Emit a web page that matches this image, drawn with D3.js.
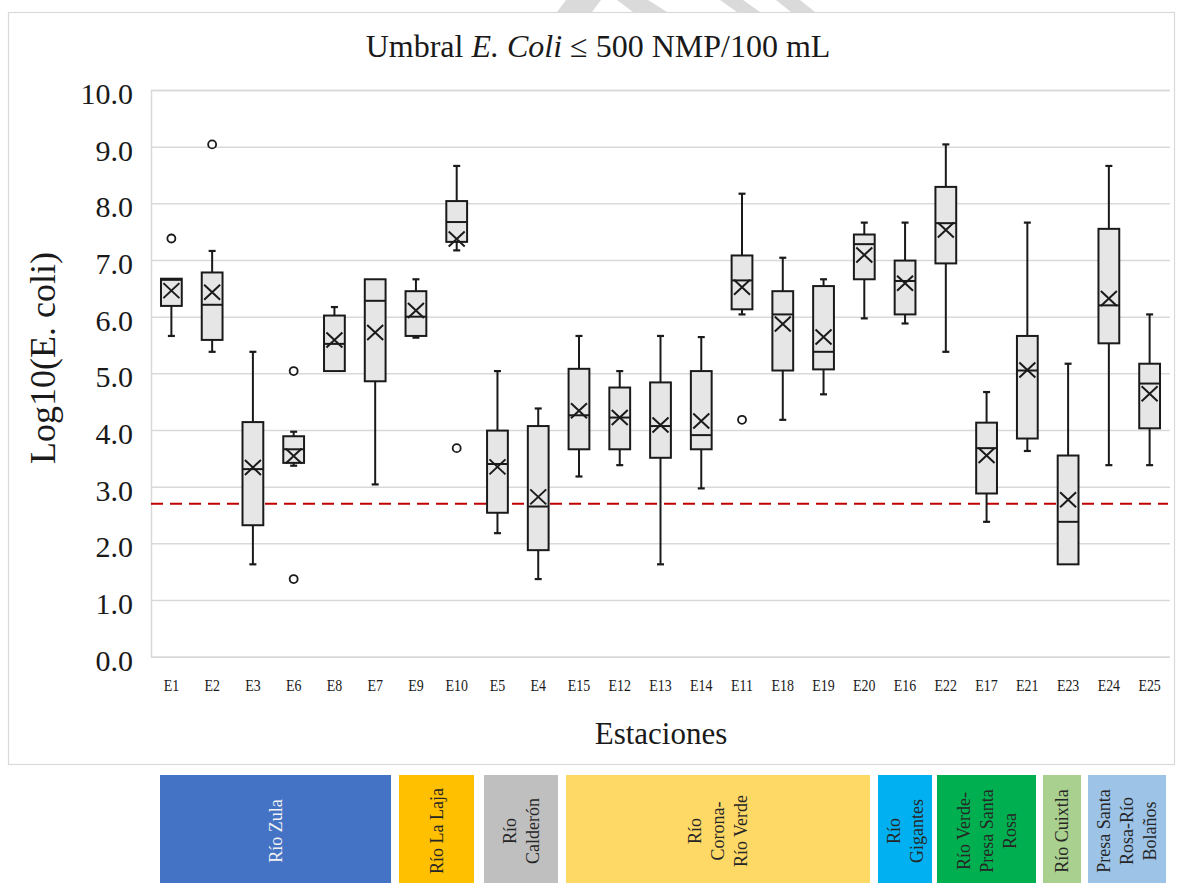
<!DOCTYPE html>
<html>
<head>
<meta charset="utf-8">
<script src="https://cdn.jsdelivr.net/npm/d3@7"></script>
<style>
  html, body { margin: 0; padding: 0; background: #fff; }
  svg { display: block; }
  text { font-family: "Liberation Serif", "Times New Roman", serif; fill: #1a1a1a; }
</style>
</head>
<body>
<svg id="chart" width="1177" height="883"></svg>
<script>
// Stations in plotting order
const stations = ["E1","E2","E3","E6","E8","E7","E9","E10","E5","E4","E15","E12","E13","E14","E11","E18","E19","E20","E16","E22","E17","E21","E23","E24","E25"];

// Box-plot statistics of log10(E. coli) per station
const whiskerLow  = [5.66,5.38,1.63,3.37,5.04,3.04,5.63,7.17,2.18,1.37,3.18,3.38,1.63,2.97,6.04,4.18,4.63,5.97,5.88,5.38,2.38,3.63,1.63,3.38,3.38];
const q1          = [6.19,5.59,2.32,3.42,5.04,4.86,5.66,7.32,2.54,1.88,3.66,3.66,3.51,3.66,6.13,5.05,5.07,6.66,6.04,6.94,2.88,3.85,1.63,5.53,4.03];
const median      = [6.65,6.21,3.31,3.66,5.52,6.28,6.00,7.67,3.40,2.65,4.26,4.22,4.07,3.91,6.64,6.04,5.38,7.28,6.63,7.65,3.68,5.05,2.38,6.20,4.82];
const q3          = [6.67,6.78,4.14,3.89,6.02,6.66,6.45,8.04,3.99,4.07,5.08,4.75,4.84,5.04,7.08,6.45,6.54,7.45,6.99,8.29,4.13,5.66,3.55,7.55,5.17];
const whiskerHigh = [6.67,7.16,5.38,3.97,6.17,6.66,6.66,8.66,5.04,4.38,5.66,5.04,5.66,5.64,8.17,7.04,6.66,7.66,7.66,9.04,4.67,7.66,5.17,8.66,6.04];
const mean        = [6.46,6.43,3.34,3.54,5.59,5.72,6.11,7.37,3.35,2.82,4.34,4.22,4.09,4.16,6.52,5.87,5.64,7.09,6.59,7.53,3.55,5.06,2.77,6.32,4.64];
const outlierStation = ["E1","E2","E6","E6","E10","E11"];
const outlierValue   = [7.38,9.04,5.04,1.37,3.68,4.18];

// Threshold: 500 NMP/100 mL on the log10 scale
const threshold = Math.log10(500);

const yTicks = [0,1,2,3,4,5,6,7,8,9,10];

// River groups shown under the axis
const riverNames  = [["Río Zula"],["Río La Laja"],["Río","Calderón"],["Río","Corona-","Río Verde"],["Río","Gigantes"],["Río Verde-","Presa Santa","Rosa"],["Río Cuixtla"],["Presa Santa","Rosa-Río","Bolaños"]];
const riverColors = ["#4472c4","#ffc000","#bfbfbf","#ffd966","#00b0f0","#00b050","#a9d08e","#9dc3e6"];
const riverText   = ["#f2f2f2","#262626","#262626","#262626","#262626","#262626","#262626","#262626"];
const riverFrom   = [160,399,484,566,878,937,1043,1088];
const riverTo     = [391,474,558,870,932,1036,1081,1166];

const svg = d3.select("#chart");
const W = 1177, H = 883;
const plot = { left: 151, right: 1170, top: 90, bottom: 656.7 };

svg.append("rect").attr("width", W).attr("height", H).attr("fill", "#fff");

// faint watermark stripes above the frame
const wm = [
  [[557,12],[592,12],[601,0],[566,0]],
  [[617,0],[648,0],[667,12],[633,12]],
  [[720,0],[743,0],[760,12],[737,12]],
  [[776,0],[800,0],[815,12],[791,12]]
];
svg.append("g").selectAll("polygon").data(wm).join("polygon")
  .attr("points", d => d.map(p => p.join(",")).join(" "))
  .attr("fill", "#dadada");

// chart frame
svg.append("rect").attr("x", 8.5).attr("y", 12.5).attr("width", 1166).attr("height", 752)
  .attr("fill", "#fff").attr("stroke", "#d9d9d9").attr("stroke-width", 1.2);

const x = d3.scaleBand().domain(stations).range([plot.left, plot.right]).padding(0);
const y = d3.scaleLinear().domain([0, 10]).range([plot.bottom, plot.top]);
const bw = x.bandwidth() * 0.51;
const cx = s => x(s) + x.bandwidth() / 2;

// y axis with gridlines
const yAxis = svg.append("g")
  .attr("transform", `translate(${plot.left},0)`)
  .call(d3.axisLeft(y).tickValues(yTicks).tickFormat(d3.format(".1f"))
    .tickSize(-(plot.right - plot.left)).tickPadding(18));
yAxis.select(".domain").attr("stroke", "#d9d9d9").attr("stroke-width", 1.5);
yAxis.selectAll(".tick line").attr("stroke", "#d9d9d9").attr("stroke-width", 1.5);
yAxis.selectAll(".tick text").attr("font-size", 30).attr("fill", "#1a1a1a").attr("dy", "0.45em")
  .style("font-family", "'Liberation Serif', serif");

// x axis labels
const xAxis = svg.append("g")
  .attr("transform", `translate(0,${plot.bottom})`)
  .call(d3.axisBottom(x).tickSize(0).tickPadding(22));
xAxis.select(".domain").remove();
xAxis.selectAll(".tick text").attr("font-size", 17).attr("fill", "#1a1a1a")
  .style("font-family", "'Liberation Serif', serif")
  .attr("transform", "scale(0.82,1)");

// threshold line
svg.append("line")
  .attr("x1", plot.left).attr("x2", plot.right - 2)
  .attr("y1", y(threshold)).attr("y2", y(threshold))
  .attr("stroke", "#c00000").attr("stroke-width", 2.2).attr("stroke-dasharray", "12,7");

// boxes
const rows = stations.map((s, i) => ({ s, lo: whiskerLow[i], q1: q1[i], med: median[i], q3: q3[i], hi: whiskerHigh[i], mean: mean[i] }));
const ink = "#1a1a1a";
const g = svg.append("g");
const box = g.selectAll("g.box").data(rows).join("g").attr("class", "box");

box.append("line").attr("x1", d => cx(d.s)).attr("x2", d => cx(d.s))
  .attr("y1", d => y(d.q3)).attr("y2", d => y(d.hi)).attr("stroke", ink).attr("stroke-width", 2);
box.append("line").attr("x1", d => cx(d.s)).attr("x2", d => cx(d.s))
  .attr("y1", d => y(d.q1)).attr("y2", d => y(d.lo)).attr("stroke", ink).attr("stroke-width", 2);
box.filter(d => d.hi > d.q3).append("line")
  .attr("x1", d => cx(d.s) - 3.5).attr("x2", d => cx(d.s) + 3.5)
  .attr("y1", d => y(d.hi)).attr("y2", d => y(d.hi)).attr("stroke", ink).attr("stroke-width", 2.2);
box.filter(d => d.lo < d.q1).append("line")
  .attr("x1", d => cx(d.s) - 3.5).attr("x2", d => cx(d.s) + 3.5)
  .attr("y1", d => y(d.lo)).attr("y2", d => y(d.lo)).attr("stroke", ink).attr("stroke-width", 2.2);

box.append("rect")
  .attr("x", d => cx(d.s) - bw / 2).attr("width", bw)
  .attr("y", d => y(d.q3)).attr("height", d => y(d.q1) - y(d.q3))
  .attr("fill", "#e6e6e6").attr("stroke", ink).attr("stroke-width", 2);
box.append("line")
  .attr("x1", d => cx(d.s) - bw / 2).attr("x2", d => cx(d.s) + bw / 2)
  .attr("y1", d => y(d.med)).attr("y2", d => y(d.med)).attr("stroke", ink).attr("stroke-width", 2);

// mean markers
const mx = 8, my = 7.5;
box.append("path")
  .attr("d", d => {
    const px = cx(d.s), py = y(d.mean);
    return `M${px - mx},${py - my}L${px + mx},${py + my}M${px - mx},${py + my}L${px + mx},${py - my}`;
  })
  .attr("stroke", ink).attr("stroke-width", 2).attr("fill", "none");

// outliers
g.selectAll("circle").data(outlierStation.map((s, i) => ({ s, v: outlierValue[i] }))).join("circle")
  .attr("cx", d => cx(d.s)).attr("cy", d => y(d.v)).attr("r", 4)
  .attr("fill", "#fff").attr("stroke", ink).attr("stroke-width", 1.8);

// titles
const title = svg.append("text").attr("x", 598).attr("y", 57).attr("text-anchor", "middle").attr("font-size", 32);
title.append("tspan").text("Umbral ");
title.append("tspan").attr("font-style", "italic").text("E. Coli");
title.append("tspan").text(" ≤ 500 NMP/100 mL");

svg.append("text").attr("x", 661).attr("y", 744).attr("text-anchor", "middle").attr("font-size", 31).text("Estaciones");
svg.append("text").attr("transform", "translate(55,358) rotate(-90)").attr("text-anchor", "middle")
  .attr("font-size", 36).text("Log10(E. coli)");

// river group bands
const band = svg.append("g").selectAll("g").data(riverNames.map((n, i) => ({ n, i }))).join("g");
band.append("rect")
  .attr("x", d => riverFrom[d.i]).attr("y", 775)
  .attr("width", d => riverTo[d.i] - riverFrom[d.i]).attr("height", H - 775)
  .attr("fill", d => riverColors[d.i]);
const lh = 23;
band.each(function (d) {
  const c = (riverFrom[d.i] + riverTo[d.i]) / 2;
  const n = d.n.length;
  d.n.forEach((line, k) => {
    const lx = c + (k - (n - 1) / 2) * lh;
    d3.select(this).append("text")
      .attr("transform", `translate(${lx + 6},831) rotate(-90)`)
      .attr("text-anchor", "middle").attr("font-size", 18)
      .attr("fill", riverText[d.i]).style("fill", riverText[d.i])
      .text(line);
  });
});
</script>
</body>
</html>
